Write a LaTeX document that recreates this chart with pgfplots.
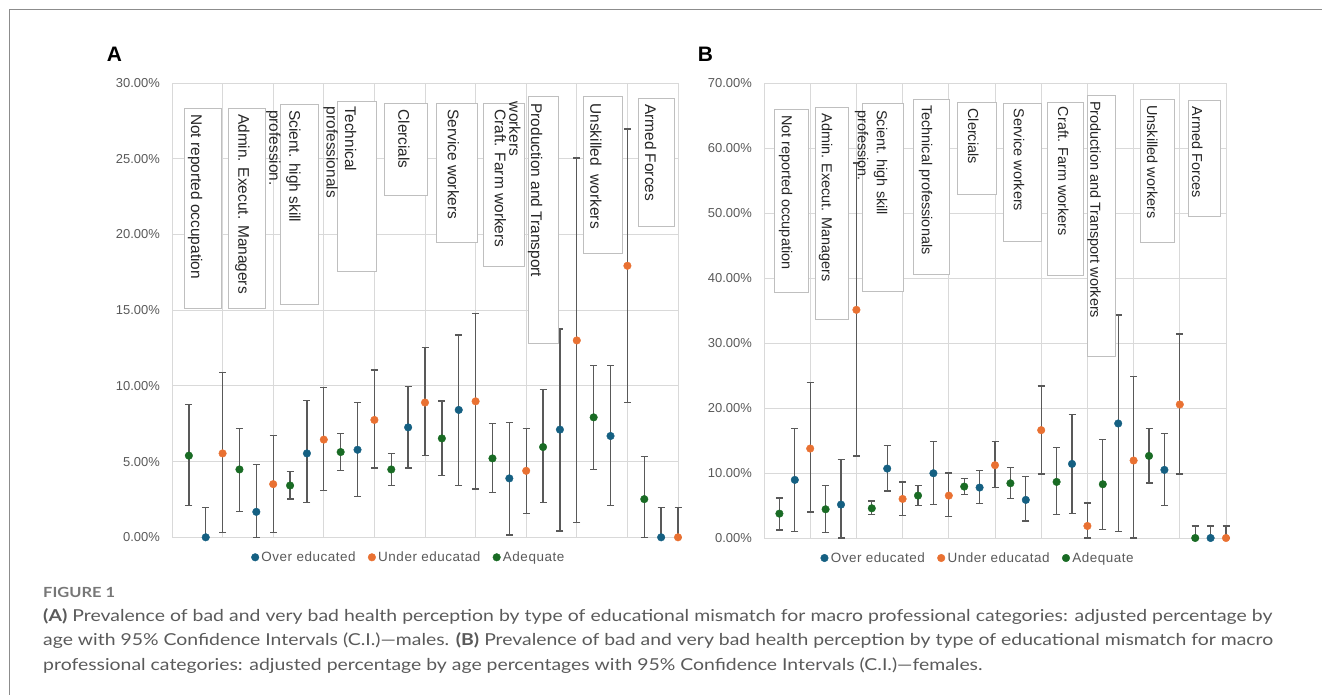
\documentclass[border=0pt]{standalone}
\usepackage{fontspec}
\setmainfont{Liberation Sans}
\newfontfamily\capfont[FakeStretch=1.18]{Lato}
\newfontfamily\legfont[LetterSpace=4]{Liberation Sans}
\usepackage{pgfplots}
\usepackage{pgfplotstable}
\pgfplotsset{compat=1.18}

\definecolor{cblue}{HTML}{156082}
\definecolor{corange}{HTML}{E97132}
\definecolor{cgreen}{HTML}{196B24}
\definecolor{gridc}{HTML}{D9D9D9}
\definecolor{errc}{HTML}{595959}
\definecolor{tickc}{HTML}{595959}
\definecolor{boxc}{HTML}{BFBFBF}
\definecolor{txtc}{HTML}{262626}
\definecolor{capc}{HTML}{5A5A5A}
\definecolor{figc}{HTML}{777777}
\definecolor{framec}{HTML}{8C8C8C}

% ---------------- Panel A (males) ----------------
\pgfplotstableread{
x y lo hi
1 5.39 2.10 8.76
4 4.48 1.72 7.20
7 3.42 2.52 4.33
10 5.63 4.42 6.87
13 4.48 3.42 5.54
16 6.53 4.08 9.00
19 5.21 2.96 7.53
22 5.96 2.30 9.76
25 7.92 4.50 11.35
28 2.52 0.00 5.34
}\Agreen
\pgfplotstableread{
x y lo hi
2 0.00 0.00 1.96
5 1.68 0.00 4.83
8 5.54 2.30 9.03
11 5.78 2.69 8.92
14 7.26 4.57 9.98
17 8.41 3.42 13.36
20 3.89 0.15 7.59
23 7.11 0.42 13.75
26 6.69 2.12 11.35
29 0.00 0.00 1.96
}\Ablue
\pgfplotstableread{
x y lo hi
3 5.54 0.31 10.90
6 3.51 0.33 6.71
9 6.45 3.09 9.91
12 7.75 4.57 11.04
15 8.90 5.41 12.52
18 8.98 3.18 14.79
21 4.39 1.55 7.20
24 13.00 0.99 25.05
27 17.93 8.92 26.97
30 0.00 0.00 1.96
}\Aorange

% ---------------- Panel B (females) ----------------
\pgfplotstableread{
x y lo hi
1 3.75 1.23 6.16
4 4.42 0.82 8.12
7 4.57 3.65 5.70
10 6.52 5.03 8.12
13 7.91 6.73 9.14
16 8.42 6.06 10.89
19 8.63 3.65 13.87
22 8.27 1.34 15.20
25 12.63 8.47 16.85
28 0.00 0.00 1.85
}\Bgreen
\pgfplotstableread{
x y lo hi
2 8.94 1.03 16.85
5 5.14 0.00 12.07
8 10.68 7.24 14.18
11 9.96 5.19 14.84
14 7.76 5.34 10.37
17 5.86 2.62 9.50
20 11.40 3.80 19.05
23 17.62 1.03 34.30
26 10.48 4.98 16.08
29 0.00 0.00 1.85
}\Bblue
\pgfplotstableread{
x y lo hi
3 13.76 4.00 23.93
6 35.10 12.63 57.70
9 6.01 3.44 8.63
12 6.52 3.29 10.00
15 11.20 7.76 14.89
18 16.59 9.86 23.37
21 1.85 0.00 5.39
24 11.92 0.00 24.80
27 20.54 9.86 31.38
30 0.00 0.00 1.85
}\Borange

\pgfplotsset{
  pt/.style={only marks, mark=*, mark size=3.8bp, color=#1,
    mark options={draw=none, fill=#1},
    legend image code/.code={\draw[##1] plot coordinates {(0bp,0bp)};},
    error bars/.cd, y dir=both, y explicit,
    error bar style={errc, line width=1.3bp},
    error mark options={errc, line width=1.3bp, mark size=3.5bp, rotate=90}},
  panel/.style={
    scale only axis, clip=false,
    xmin=0, xmax=30, xtick={0,3,...,30}, xticklabels={},
    major tick length=0pt,
    grid=major, grid style={gridc, line width=0.8bp},
    axis line style={gridc, line width=0.8bp},
    ymin=0,
    /pgf/number format/assume math mode=true,
    yticklabel={\pgfmathprintnumber[fixed,fixed zerofill,precision=2]{\tick}\%},
    yticklabel style={font=\fontsize{13}{15}\selectfont, text=tickc, inner sep=0pt, anchor=east, xshift=-12bp},
    legend columns=3,
    legend style={draw=none, fill=none, inner sep=0pt, font=\legfont\fontsize{13.5}{16}\selectfont, text=tickc,
      nodes={inner sep=1.5bp},
      /tikz/every odd column/.append style={column sep=1bp},
      /tikz/every even column/.append style={column sep=11bp}},
  }
}

\newcommand{\bx}[4]{\draw[boxc, line width=0.8bp, fill=white] ({#1bp},{695bp-#2bp}) rectangle ({#3bp},{695bp-#4bp});}
\newcommand{\lbl}[4]{\node[rotate=-90, anchor=west, inner sep=0pt, font=\fontsize{#3}{#3}\selectfont, text=txtc] at ({#1bp},{695bp-#2bp}) {#4};}

\begin{document}
\begin{tikzpicture}
\useasboundingbox (0,0) rectangle (1322bp,695bp);

% frame
\draw[framec, line width=1.3bp] (9.3bp,0) -- (9.3bp,{695bp-9.3bp}) -- (1322bp,{695bp-9.3bp});

% ---------- Panel A ----------
\begin{axis}[panel, at={(172bp,157.7bp)}, anchor=south west,
  width=506bp, height=454.3bp, ymax=30, ytick={0,5,...,30},
  legend style={at={(0.4676,-0.044)}, anchor=center}]
\addplot[pt=cblue] table[x=x, y=y, y error plus expr=\thisrow{hi}-\thisrow{y}, y error minus expr=\thisrow{y}-\thisrow{lo}] {\Ablue};
\addlegendentry{Over educated}
\addplot[pt=corange] table[x=x, y=y, y error plus expr=\thisrow{hi}-\thisrow{y}, y error minus expr=\thisrow{y}-\thisrow{lo}] {\Aorange};
\addlegendentry{Under educatad}
\addplot[pt=cgreen] table[x=x, y=y, y error plus expr=\thisrow{hi}-\thisrow{y}, y error minus expr=\thisrow{y}-\thisrow{lo}] {\Agreen};
\addlegendentry{Adequate}
\end{axis}

% ---------- Panel B ----------
\begin{axis}[panel, at={(764bp,157bp)}, anchor=south west,
  width=462bp, height=455bp, ymax=70, ytick={0,10,...,70},
  legend style={at={(0.463,-0.044)}, anchor=center}]
\addplot[pt=cblue] table[x=x, y=y, y error plus expr=\thisrow{hi}-\thisrow{y}, y error minus expr=\thisrow{y}-\thisrow{lo}] {\Bblue};
\addlegendentry{Over educated}
\addplot[pt=corange] table[x=x, y=y, y error plus expr=\thisrow{hi}-\thisrow{y}, y error minus expr=\thisrow{y}-\thisrow{lo}] {\Borange};
\addlegendentry{Under educatad}
\addplot[pt=cgreen] table[x=x, y=y, y error plus expr=\thisrow{hi}-\thisrow{y}, y error minus expr=\thisrow{y}-\thisrow{lo}] {\Bgreen};
\addlegendentry{Adequate}
\end{axis}

% ---------- text boxes, panel A ----------
\bx{184}{108}{221}{308}
\lbl{195}{114}{15.5}{Not reported occupation}
\bx{228.7}{108.7}{265.7}{308}
\lbl{242.3}{114}{15.5}{Admin. Execut. Managers}
\bx{280}{104}{318.7}{304}
\lbl{293.3}{110}{15.5}{Scient. high skill}
\lbl{273.3}{110}{15.5}{profession.}
\bx{337}{101}{376}{271}
\lbl{350.7}{106.7}{15.5}{Technical}
\lbl{330.7}{106.7}{15.5}{professionals}
\bx{384}{103}{427}{195}
\lbl{404}{109.3}{15.5}{Clercials}
\bx{436}{103}{477}{242}
\lbl{453.3}{109.3}{15.5}{Service workers}
\bx{483}{103}{524}{266}
\lbl{500.3}{109.3}{15.5}{Craft. Farm workers}
\bx{528}{96}{558}{343}
\lbl{535}{103.3}{15.5}{Production and Transport}
\lbl{515}{101.7}{15.5}{workers}
\bx{583}{96}{622}{253}
\lbl{596}{103.3}{15.5}{Unskilled\ \ workers}
\bx{638}{98}{674}{226}
\lbl{650.7}{104}{15.5}{Armed Forces}

% ---------- text boxes, panel B ----------
\bx{774}{109}{808}{292}
\lbl{785.7}{115}{14.5}{Not reported occupation}
\bx{815}{107}{848}{319}
\lbl{825.7}{113.3}{14.5}{Admin. Execut. Managers}
\bx{862}{103}{903}{291}
\lbl{880.7}{110}{14.5}{Scient. high skill}
\lbl{861.7}{110}{14.5}{profession.}
\bx{913}{99}{949}{274}
\lbl{925.7}{105}{14.5}{Technical professionals}
\bx{957}{102}{996}{194}
\lbl{973.3}{108.3}{14.5}{Clercials}
\bx{1003}{103}{1041}{241}
\lbl{1019}{108.3}{14.5}{Service workers}
\bx{1047}{102}{1083}{275}
\lbl{1063.3}{106.7}{14.5}{Craft. Farm workers}
\bx{1087}{95}{1115}{356}
\lbl{1094}{101}{14.5}{Production and Transport workers}
\bx{1140}{99}{1174}{242}
\lbl{1152.3}{105}{14.5}{Unskilled workers}
\bx{1188}{100}{1220}{216}
\lbl{1197.3}{106.7}{14.5}{Armed Forces}

% panel letters
\node[inner sep=0pt, font=\bfseries\fontsize{21}{21}\selectfont] at (114.5bp,{695bp-54.5bp}) {A};
\node[inner sep=0pt, font=\bfseries\fontsize{21}{21}\selectfont] at (705.5bp,{695bp-54bp}) {B};

% caption
\node[anchor=base west, inner sep=0pt, font=\capfont\bfseries\fontsize{14}{14}\selectfont, text=figc] at (43bp,{695bp-598bp}) {FIGURE 1};
\node[anchor=base west, inner sep=0pt, font=\capfont\fontsize{16.5}{16.5}\selectfont, text=capc] at (43bp,{695bp-621.7bp}) {\makebox[1229bp][s]{\textbf{(A)} Prevalence of bad and very bad health perception by type of educational mismatch for macro professional categories: adjusted percentage by}};
\node[anchor=base west, inner sep=0pt, font=\capfont\fontsize{16.5}{16.5}\selectfont, text=capc] at (43bp,{695bp-646bp}) {\makebox[1230bp][s]{age with 95\% Confidence Intervals (C.I.)—males. \textbf{(B)} Prevalence of bad and very bad health perception by type of educational mismatch for macro}};
\node[anchor=base west, inner sep=0pt, font=\capfont\fontsize{16.5}{16.5}\selectfont, text=capc] at (43bp,{695bp-670bp}) {professional categories: adjusted percentage by age percentages with 95\% Confidence Intervals (C.I.)—females.};
\end{tikzpicture}
\end{document}
